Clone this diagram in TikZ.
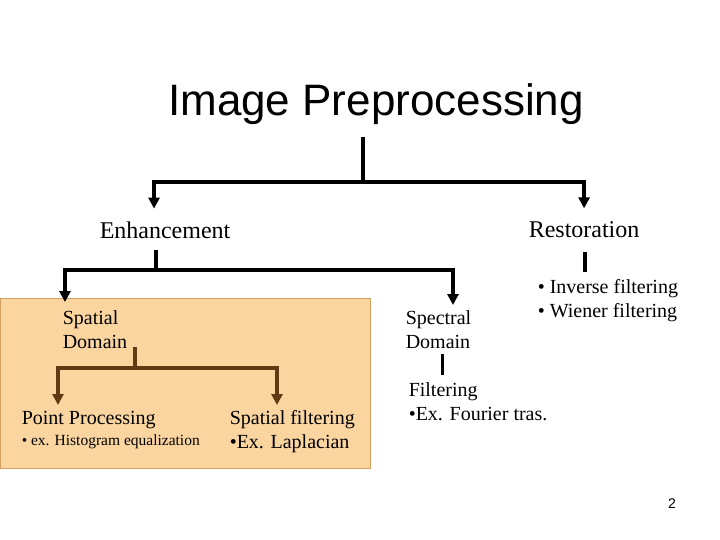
\documentclass[tikz,border=0pt]{standalone}
\usepackage{fontspec}
\setmainfont{Liberation Serif}
\newfontfamily\headfont{Liberation Sans}
\usetikzlibrary{arrows.meta}
\definecolor{boxfill}{RGB}{251,213,160}
\definecolor{boxline}{RGB}{210,160,95}
\definecolor{branch}{RGB}{96,58,18}

\begin{document}
\begin{tikzpicture}[x=1pt, y=-1pt, line width=3.5pt,
  link/.style={-{Triangle[length=11pt,width=11pt]}},
  big/.style={inner sep=0pt, font=\fontsize{24}{28}\selectfont},
  txt/.style={inner sep=0pt, align=left, font=\fontsize{20}{24}\selectfont},
  small/.style={inner sep=0pt, font=\fontsize{15.5}{18}\selectfont}]
\useasboundingbox (0,0) rectangle (720,540);
\draw [fill=boxfill, draw=boxline, line width=1pt] (0,298) rectangle (370,468);

% title and first level
\node [inner sep=0pt, anchor=base, font=\headfont\fontsize{44}{50}\selectfont] (title) at (376,116) {Image Preprocessing};
\node [big, anchor=base west] (enh) at (98,238) {Enhancement};
\node [big, anchor=base west] (res) at (527,237) {Restoration};
\coordinate (tj) at (363,182);
\draw ([yshift=-10pt]tj |- title.south) -- (tj);
\draw [link] (tj) -| ([xshift=-11pt,yshift=11pt]enh.north);
\draw [link] (tj) -| ([yshift=11pt]res.north);

% second level
\node [txt, anchor=north west] (spat) at (61,309) {Spatial\\Domain};
\node [txt, anchor=north west] (spec) at (404,309) {Spectral\\Domain};
\node [txt, anchor=north west] (rinfo) at (536,278) {• Inverse filtering\\• Wiener filtering};
\draw ([xshift=-9pt,yshift=-10pt]enh.south) -- ++(0,20) coordinate (ej);
\draw [link] (ej) -| ([xshift=4pt,yshift=7pt]spat.north west);
\draw [link] (ej) -| ([xshift=49pt,yshift=4pt]spec.north west);
\draw ([xshift=1pt,yshift=-13pt]res.south) -- ++(0,20);

% inside the box
\node [txt, anchor=north west] (point) at (20,410) {Point Processing};
\node [small, anchor=north west] (pointex) at (20,433) {• ex. Histogram equalization};
\node [txt, anchor=north west] (sfilt) at (228,409) {Spatial filtering\\•Ex. Laplacian};
\coordinate (sj) at (135,368);
\draw [branch] ([yshift=4pt]sj |- spat.south) -- (sj);
\draw [branch, link] (sj) -| ([xshift=38pt,yshift=5pt]point.north west);
\draw [branch, link] (sj) -| ([xshift=49pt,yshift=4pt]sfilt.north west);

% spectral branch
\node [txt, anchor=north west] (filt) at (407,381) {Filtering\\•Ex. Fourier tras.};
\draw ([xshift=4pt,yshift=-3pt]spec.south) -- ([xshift=4pt,yshift=6pt]spec.south |- filt.north);

\node [inner sep=0pt, font=\headfont\fontsize{14}{16}\selectfont] (page) at (672,504) {2};
\end{tikzpicture}
\end{document}
